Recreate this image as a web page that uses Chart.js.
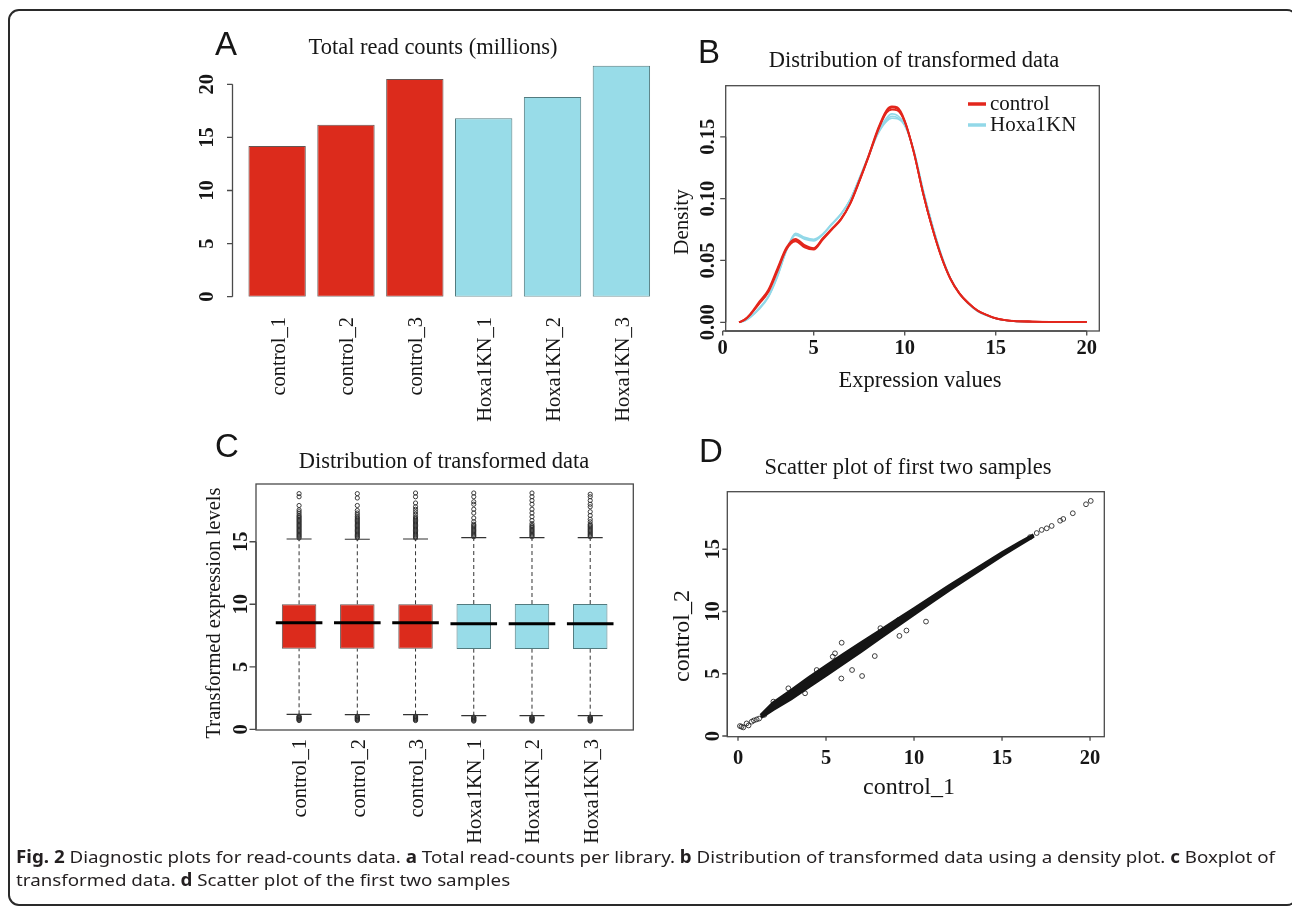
<!DOCTYPE html>
<html>
<head>
<meta charset="utf-8">
<script src="https://cdn.jsdelivr.net/npm/chart.js@4.4.1/dist/chart.umd.min.js"></script>
<style>
  body { margin: 0; background: #fff; width: 1292px; height: 910px; overflow: hidden; position: relative; }
  canvas { position: absolute; left: 0; top: 0; }
  .frame { position: absolute; left: 8px; top: 9px; width: 1290px; height: 897px; border: 2px solid #2a2a2a;
           border-radius: 11px; box-sizing: border-box; }
  .cap { position: absolute; left: 16px; top: 845px; font: 17px "Noto Sans", "Open Sans", sans-serif; color: #231f20;
         line-height: 23px; white-space: nowrap; transform-origin: 0 0; }
  .cap b { font-weight: 700; }
</style>
</head>
<body>
<div class="frame"></div>
<canvas id="cA" width="1292" height="910"></canvas>
<canvas id="cB" width="1292" height="910"></canvas>
<canvas id="cC" width="1292" height="910"></canvas>
<canvas id="cD" width="1292" height="910"></canvas>
<div class="cap"><span id="line1"><b>Fig. 2</b> Diagnostic plots for read-counts data. <b>a</b> Total read-counts per library. <b>b</b> Distribution of transformed data using a density plot. <b>c</b> Boxplot of</span><br>transformed data. <b>d</b> Scatter plot of the first two samples</div>
<script>
// ---- data ----
const samples = ['control_1', 'control_2', 'control_3', 'Hoxa1KN_1', 'Hoxa1KN_2', 'Hoxa1KN_3'];
const groups = ['control', 'Hoxa1KN'];

// A: total read counts (millions)
const totalReads = [14.2, 16.2, 20.5, 16.8, 18.8, 21.75];

// B: density of transformed data
const densityX = [0.9, 1.2, 1.5, 2, 2.5, 3, 3.5, 4, 4.5, 5, 5.5, 6, 6.5, 7, 7.5, 8, 8.5, 9, 9.3, 9.6,
                  10, 10.5, 11, 11.5, 12, 12.5, 13, 13.5, 14, 14.5, 15, 15.5, 16, 17, 18, 19, 20];
const densCtrl1 = [0, 0.002, 0.006, 0.0155, 0.025, 0.042, 0.0595, 0.0665, 0.0615, 0.0595, 0.0675, 0.0755, 0.0835, 0.096, 0.114, 0.1335, 0.1545, 0.1705, 0.1735, 0.1725,
                   0.1625, 0.1375, 0.105, 0.077, 0.0535, 0.0355, 0.0235, 0.0155, 0.0095, 0.006, 0.0032, 0.0018, 0.001, 0.0006, 0.0004, 0.0004, 0.0003];
const densCtrl2 = [0, 0.0022, 0.0065, 0.0165, 0.0262, 0.0435, 0.0605, 0.0675, 0.0625, 0.060, 0.068, 0.0758, 0.0838, 0.0962, 0.1145, 0.1342, 0.1555, 0.1715, 0.1745, 0.1738,
                   0.1632, 0.1378, 0.1048, 0.0768, 0.0532, 0.0352, 0.0232, 0.0153, 0.0094, 0.0059, 0.0031, 0.0017, 0.001, 0.0006, 0.0004, 0.0003, 0.0003];
const densCtrl3 = [0, 0.0018, 0.0058, 0.0148, 0.0242, 0.041, 0.0588, 0.0655, 0.0605, 0.0588, 0.0668, 0.075, 0.083, 0.0955, 0.1135, 0.133, 0.1538, 0.1695, 0.172, 0.1712,
                   0.162, 0.1372, 0.1052, 0.0772, 0.0538, 0.0358, 0.0237, 0.0157, 0.0096, 0.0061, 0.0033, 0.0018, 0.0011, 0.0006, 0.0004, 0.0004, 0.0003];
const densHox1 = [0, 0.0012, 0.004, 0.011, 0.0205, 0.037, 0.058, 0.0712, 0.068, 0.0665, 0.0712, 0.0795, 0.0875, 0.099, 0.116, 0.134, 0.152, 0.1635, 0.1665, 0.1655,
                  0.1595, 0.139, 0.1075, 0.0795, 0.055, 0.036, 0.0235, 0.015, 0.009, 0.0055, 0.003, 0.0016, 0.0009, 0.0005, 0.0004, 0.0003, 0.0003];
const densHox2 = [0, 0.0013, 0.0042, 0.0115, 0.021, 0.0375, 0.0585, 0.0705, 0.0672, 0.0658, 0.0708, 0.0792, 0.0872, 0.0988, 0.1162, 0.1345, 0.1528, 0.1652, 0.1685, 0.1672,
                  0.1605, 0.1392, 0.1072, 0.0792, 0.0548, 0.0358, 0.0234, 0.0149, 0.0089, 0.0055, 0.003, 0.0016, 0.0009, 0.0005, 0.0004, 0.0003, 0.0002];
const densHox3 = [0, 0.0011, 0.0038, 0.0105, 0.02, 0.0365, 0.0578, 0.072, 0.0688, 0.0672, 0.0716, 0.0798, 0.0878, 0.0992, 0.1158, 0.1335, 0.1515, 0.1625, 0.165, 0.1645,
                  0.159, 0.1388, 0.1078, 0.0798, 0.0552, 0.0362, 0.0236, 0.0151, 0.0091, 0.0056, 0.003, 0.0016, 0.0009, 0.0005, 0.0004, 0.0003, 0.0003];

// C: boxplot stats per sample
const boxQ1 = [6.45, 6.45, 6.45, 6.42, 6.42, 6.42];
const boxMed = [8.53, 8.53, 8.53, 8.45, 8.45, 8.45];
const boxQ3 = [10.0, 10.0, 10.0, 10.02, 10.02, 10.02];
const whiskLo = [1.2, 1.18, 1.18, 1.09, 1.09, 1.09];
const whiskHi = [15.22, 15.2, 15.22, 15.33, 15.33, 15.33];
const outHigh = [
  [15.3, 15.4, 15.5, 15.6, 15.7, 15.8, 15.9, 16.0, 16.1, 16.2, 16.3, 16.4, 16.5, 16.6, 16.7, 16.8, 16.9, 17.0, 17.1, 17.25, 17.4, 17.55, 17.9, 18.6, 18.85],
  [15.3, 15.4, 15.5, 15.6, 15.7, 15.8, 15.9, 16.0, 16.1, 16.2, 16.3, 16.4, 16.5, 16.6, 16.7, 16.8, 16.9, 17.0, 17.15, 17.3, 17.5, 17.9, 18.5, 18.85],
  [15.3, 15.4, 15.5, 15.6, 15.7, 15.8, 15.9, 16.0, 16.1, 16.2, 16.3, 16.4, 16.5, 16.6, 16.7, 16.8, 16.9, 17.0, 17.2, 17.4, 17.6, 17.8, 18.1, 18.6, 18.9],
  [15.4, 15.5, 15.6, 15.7, 15.8, 15.9, 16.0, 16.1, 16.2, 16.3, 16.4, 16.6, 16.9, 17.3, 17.6, 18.0, 18.2, 18.6, 18.9],
  [15.4, 15.5, 15.6, 15.7, 15.8, 15.9, 16.0, 16.1, 16.2, 16.3, 16.45, 16.7, 17.0, 17.3, 17.6, 18.0, 18.3, 18.6, 18.9],
  [15.4, 15.5, 15.6, 15.7, 15.8, 15.9, 16.0, 16.1, 16.2, 16.3, 16.4, 16.6, 16.8, 17.1, 17.4, 17.8, 18.0, 18.3, 18.6, 18.8]
];
const outLow = [
  [1.05, 1.0, 0.95, 0.9, 0.85, 0.8, 0.75, 0.7],
  [1.05, 1.0, 0.95, 0.9, 0.85, 0.8, 0.75, 0.7],
  [1.05, 1.0, 0.95, 0.9, 0.85, 0.8, 0.75, 0.7],
  [0.98, 0.94, 0.9, 0.85, 0.8, 0.75, 0.7, 0.65],
  [0.98, 0.94, 0.9, 0.85, 0.8, 0.75, 0.7, 0.65],
  [0.98, 0.94, 0.9, 0.85, 0.8, 0.75, 0.7, 0.65]
];

// D: control_1 vs control_2 - dense band edges and sparse points
const bandX  = [1.3, 2, 3, 4, 5, 6, 7, 8, 9, 10, 11, 12, 13, 14, 15, 16, 16.8];
const bandHi = [1.65, 2.65, 3.62, 4.65, 5.6, 6.55, 7.47, 8.38, 9.3, 10.2, 11.12, 12.05, 12.93, 13.81, 14.69, 15.52, 16.14];
const bandLo = [1.5, 2.15, 2.98, 3.95, 4.9, 5.85, 6.83, 7.82, 8.8, 9.8, 10.78, 11.75, 12.67, 13.59, 14.51, 15.38, 16.06];
const sparseX = [0.11, 0.30, 0.49, 0.78, 1.06, 0.2, 0.6, 0.9, 1.2, 1.5,
                 5.89, 5.51, 5.38, 5.87, 6.48, 7.05, 7.77, 8.09, 9.17, 9.57, 10.68, 9.13, 4.47, 3.81, 2.86, 2.01,
                 16.59, 16.97, 17.25, 17.54, 17.82, 18.30, 18.48, 19.02, 19.77, 20.04];
const sparseY = [0.80, 0.69, 1.01, 1.15, 1.33, 0.75, 0.85, 1.25, 1.4, 1.7,
                 7.49, 6.64, 6.37, 4.62, 5.30, 4.82, 6.42, 8.66, 8.04, 8.47, 9.19, 9.32, 5.30, 3.43, 3.83, 2.76,
                 15.97, 16.30, 16.55, 16.68, 16.87, 17.29, 17.43, 17.89, 18.61, 18.88];

// tick labels
const readTicks = [0, 5, 10, 15, 20];
const densTicks = [0, 0.05, 0.10, 0.15];
const densTickLabels = ['0.00', '0.05', '0.10', '0.15'];
const exprTicks = [0, 5, 10, 15, 20];
const levelTicks = [0, 5, 10, 15];

// ---- styling ----
const RED = '#dc2b1c', BLUE = '#98dce8';
const LINE_RED = '#e3261c', LINE_BLUE = '#92d8e8';
const SERIF = '"Liberation Serif", "Times New Roman", serif';
const SANS = '"Liberation Sans", Arial, sans-serif';
const W = 1292, H = 910;
const font = (size, bold) => (bold ? 'bold ' : '') + size + 'px ' + SERIF;

// draws R-style axes, box, titles and labels from the chart's own scales
const rStyle = {
  id: 'rStyle',
  afterDraw(chart, args, o) {
    const { ctx, chartArea: a, scales: { x, y } } = chart;
    ctx.save();
    ctx.strokeStyle = '#4a4a4a';
    ctx.fillStyle = '#161616';
    ctx.lineWidth = 1.3;
    if (o.box) ctx.strokeRect(a.left, a.top, a.right - a.left, a.bottom - a.top);

    // y axis
    const ax = o.yAxisAt ?? a.left;
    const yp = o.yTicks.map(v => y.getPixelForValue(v));
    ctx.beginPath();
    ctx.moveTo(ax, yp[0]); ctx.lineTo(ax, yp[yp.length - 1]);
    yp.forEach(p => { ctx.moveTo(ax, p); ctx.lineTo(ax - o.tick, p); });
    ctx.stroke();
    ctx.font = font(20.5, true);
    ctx.textAlign = 'center'; ctx.textBaseline = 'middle';
    yp.forEach((p, i) => {
      ctx.save(); ctx.translate(o.yLabX, p); ctx.rotate(-Math.PI / 2);
      ctx.fillText(o.yLabels[i], 0, 0); ctx.restore();
    });

    // numeric x axis
    if (o.xTicks) {
      const xp = o.xTicks.map(v => x.getPixelForValue(v));
      ctx.beginPath();
      ctx.moveTo(xp[0], a.bottom); ctx.lineTo(xp[xp.length - 1], a.bottom);
      xp.forEach(p => { ctx.moveTo(p, a.bottom); ctx.lineTo(p, a.bottom + o.tick - 1); });
      ctx.stroke();
      ctx.textBaseline = 'alphabetic';
      xp.forEach((p, i) => ctx.fillText(String(o.xTicks[i]), p, o.xLabY));
    }

    // rotated category labels
    if (o.cats) {
      ctx.font = font(20.5, false);
      ctx.textAlign = 'right'; ctx.textBaseline = 'middle';
      o.cats.forEach((c, i) => {
        const p = x.getPixelForValue(o.catValues ? o.catValues[i] : i);
        ctx.save(); ctx.translate(p + 2, o.catTop); ctx.rotate(-Math.PI / 2);
        ctx.fillText(c, 0, 0); ctx.restore();
      });
    }

    // titles, axis titles, panel letter
    (o.texts || []).forEach(t => {
      ctx.save();
      ctx.font = t.sans ? t.size + 'px ' + SANS : font(t.size, false);
      ctx.textAlign = t.align || 'center';
      ctx.textBaseline = t.rot ? 'middle' : 'alphabetic';
      ctx.translate(t.x, t.y);
      if (t.rot) ctx.rotate(-Math.PI / 2);
      ctx.fillText(t.text, 0, 0);
      ctx.restore();
    });

    // legend
    if (o.legend) {
      const L = o.legend;
      L.items.forEach((it, i) => {
        const yy = L.y + i * L.dy;
        ctx.strokeStyle = it.color; ctx.lineWidth = 3.5;
        ctx.beginPath(); ctx.moveTo(L.x, yy); ctx.lineTo(L.x + 18, yy); ctx.stroke();
        ctx.font = font(21, false); ctx.textAlign = 'left'; ctx.textBaseline = 'middle';
        ctx.fillText(it.label, L.x + 22, yy);
      });
    }
    ctx.restore();
  }
};

function opts(area, scales, r) {
  return {
    responsive: false, animation: false, events: [], devicePixelRatio: 1,
    layout: { autoPadding: false, padding: { left: area[0], top: area[1], right: W - area[2], bottom: H - area[3] } },
    scales,
    plugins: { legend: { display: false }, tooltip: { enabled: false }, rStyle: r }
  };
}
const hidden = extra => Object.assign({ display: false }, extra);

// ---- A: bar chart ----
new Chart(document.getElementById('cA'), {
  type: 'bar',
  data: {
    labels: samples,
    datasets: [{
      data: totalReads,
      backgroundColor: samples.map((s, i) => i < 3 ? RED : BLUE),
      borderColor: samples.map((s, i) => i < 3 ? 'rgba(50,30,25,0.75)' : 'rgba(40,90,95,0.8)'),
      borderWidth: 1, borderSkipped: false,
      barPercentage: 0.833, categoryPercentage: 1
    }]
  },
  options: opts([242.7, 63.06, 655.8, 296.7],
    { x: hidden({ type: 'category' }), y: hidden({ min: 0, max: 22 }) },
    {
      yAxisAt: 232.5, tick: 5.5, yTicks: readTicks, yLabels: readTicks.map(String), yLabX: 208,
      cats: samples, catTop: 317,
      texts: [
        { text: 'Total read counts (millions)', x: 433, y: 54, size: 22.5 },
        { text: 'A', x: 215, y: 55, size: 33, sans: true, align: 'left' }
      ]
    }),
  plugins: [rStyle]
});

// ---- B: density lines ----
const densSeries = [densCtrl1, densCtrl2, densCtrl3, densHox1, densHox2, densHox3];
new Chart(document.getElementById('cB'), {
  type: 'line',
  data: {
    datasets: densSeries.map((arr, k) => ({
      label: samples[k],
      data: densityX.map((v, i) => ({ x: v, y: arr[i] })),
      borderColor: k < 3 ? LINE_RED : LINE_BLUE,
      borderWidth: k < 3 ? 1.8 : 1.6,
      pointRadius: 0, cubicInterpolationMode: 'monotone', fill: false,
      order: k < 3 ? 0 : 1
    }))
  },
  options: opts([725.7, 85.7, 1099.3, 331],
    { x: hidden({ type: 'linear', min: 0.165, max: 20.69 }), y: hidden({ min: -0.00703, max: 0.1913 }) },
    {
      box: true, tick: 5.5, yTicks: densTicks, yLabels: densTickLabels, yLabX: 709,
      xTicks: exprTicks, xLabY: 354,
      legend: { x: 968, y: 104, dy: 21, items: groups.map((g, i) => ({ label: g, color: i ? LINE_BLUE : LINE_RED })) },
      texts: [
        { text: 'Distribution of transformed data', x: 914, y: 66.5, size: 22.5 },
        { text: 'Expression values', x: 920, y: 387, size: 22.5 },
        { text: 'Density', x: 682, y: 222, size: 21, rot: true },
        { text: 'B', x: 698, y: 63, size: 33, sans: true, align: 'left' }
      ]
    }),
  plugins: [rStyle]
});

// ---- C: boxplot ----
const pos = samples.map((s, i) => i + 1);
const whiskerPts = [];
pos.forEach((p, i) => {
  whiskerPts.push({ x: p, y: boxQ3[i] }, { x: p, y: whiskHi[i] }, { x: p, y: null },
                  { x: p, y: whiskLo[i] }, { x: p, y: boxQ1[i] }, { x: p, y: null });
});
const outlierPts = [];
pos.forEach((p, i) => {
  outHigh[i].forEach(v => outlierPts.push({ x: p, y: v }));
  outLow[i].forEach(v => outlierPts.push({ x: p, y: v }));
});
new Chart(document.getElementById('cC'), {
  type: 'bar',
  data: {
    datasets: [
      {
        type: 'bar', order: 3,
        data: pos.map((p, i) => ({ x: p, y: [boxQ1[i], boxQ3[i]] })),
        backgroundColor: samples.map((s, i) => i < 3 ? RED : BLUE),
        borderColor: samples.map((s, i) => i < 3 ? 'rgba(50,30,25,0.75)' : 'rgba(40,90,95,0.8)'),
        borderWidth: 1, borderSkipped: false, barPercentage: 0.8, categoryPercentage: 1
      },
      {
        type: 'line', order: 2, data: whiskerPts, spanGaps: false,
        borderColor: '#333', borderWidth: 1, borderDash: [4, 3], pointRadius: 0, fill: false
      },
      {
        type: 'scatter', order: 2,
        data: pos.flatMap((p, i) => [{ x: p, y: whiskHi[i] }, { x: p, y: whiskLo[i] }]),
        pointStyle: 'line', pointRadius: 12.5, pointBorderWidth: 1.2, pointBorderColor: '#333'
      },
      {
        type: 'scatter', order: 1,
        data: pos.map((p, i) => ({ x: p, y: boxMed[i] })),
        pointStyle: 'line', pointRadius: 23.3, pointBorderWidth: 3, pointBorderColor: '#000'
      },
      {
        type: 'scatter', order: 2, data: outlierPts,
        pointRadius: 2.1, pointBorderWidth: 0.9, pointBorderColor: '#2a2a2a', pointBackgroundColor: 'rgba(0,0,0,0)'
      }
    ]
  },
  options: opts([256, 484, 633.3, 730],
    { x: hidden({ type: 'linear', min: 0.26, max: 6.74, offset: false }), y: hidden({ min: -0.056, max: 19.62 }) },
    {
      box: true, tick: 6.5, yTicks: levelTicks, yLabels: levelTicks.map(String), yLabX: 241.5,
      cats: samples, catValues: pos, catTop: 739,
      texts: [
        { text: 'Distribution of transformed data', x: 444, y: 468, size: 22.5 },
        { text: 'Transformed expression levels', x: 215, y: 613, size: 20.5, rot: true },
        { text: 'C', x: 215, y: 457, size: 33, sans: true, align: 'left' }
      ]
    }),
  plugins: [rStyle]
});

// ---- D: scatter ----
new Chart(document.getElementById('cD'), {
  type: 'scatter',
  data: {
    datasets: [
      {
        type: 'line', data: bandX.map((v, i) => ({ x: v, y: bandHi[i] })),
        borderColor: '#151515', backgroundColor: '#151515', borderWidth: 3.5, pointRadius: 0, fill: '+1'
      },
      {
        type: 'line', data: bandX.map((v, i) => ({ x: v, y: bandLo[i] })),
        borderColor: '#151515', borderWidth: 3.5, pointRadius: 0, fill: false
      },
      {
        data: sparseX.map((v, i) => ({ x: v, y: sparseY[i] })),
        pointRadius: 2.4, pointBorderWidth: 0.9, pointBorderColor: '#2a2a2a', pointBackgroundColor: 'rgba(0,0,0,0)'
      }
    ]
  },
  options: opts([727.3, 491.7, 1104.3, 736.7],
    { x: hidden({ type: 'linear', min: -0.608, max: 20.81 }), y: hidden({ min: -0.056, max: 19.62 }) },
    {
      box: true, tick: 5, yTicks: levelTicks, yLabels: levelTicks.map(String), yLabX: 714,
      xTicks: exprTicks, xLabY: 764,
      texts: [
        { text: 'Scatter plot of first two samples', x: 908, y: 474, size: 22.5 },
        { text: 'control_1', x: 909, y: 794, size: 24 },
        { text: 'control_2', x: 683, y: 636, size: 24, rot: true },
        { text: 'D', x: 699, y: 461.5, size: 33, sans: true, align: 'left' }
      ]
    }),
  plugins: [rStyle]
});

// fit caption first line to the figure width
function fitCaption() {
  const cap = document.querySelector('.cap');
  cap.style.transform = 'none';
  const w = document.getElementById('line1').getBoundingClientRect().width;
  if (w > 0) cap.style.transform = 'scaleX(' + (1259 / w) + ')';
}
fitCaption();
if (document.fonts) document.fonts.ready.then(fitCaption);
</script>
</body>
</html>
